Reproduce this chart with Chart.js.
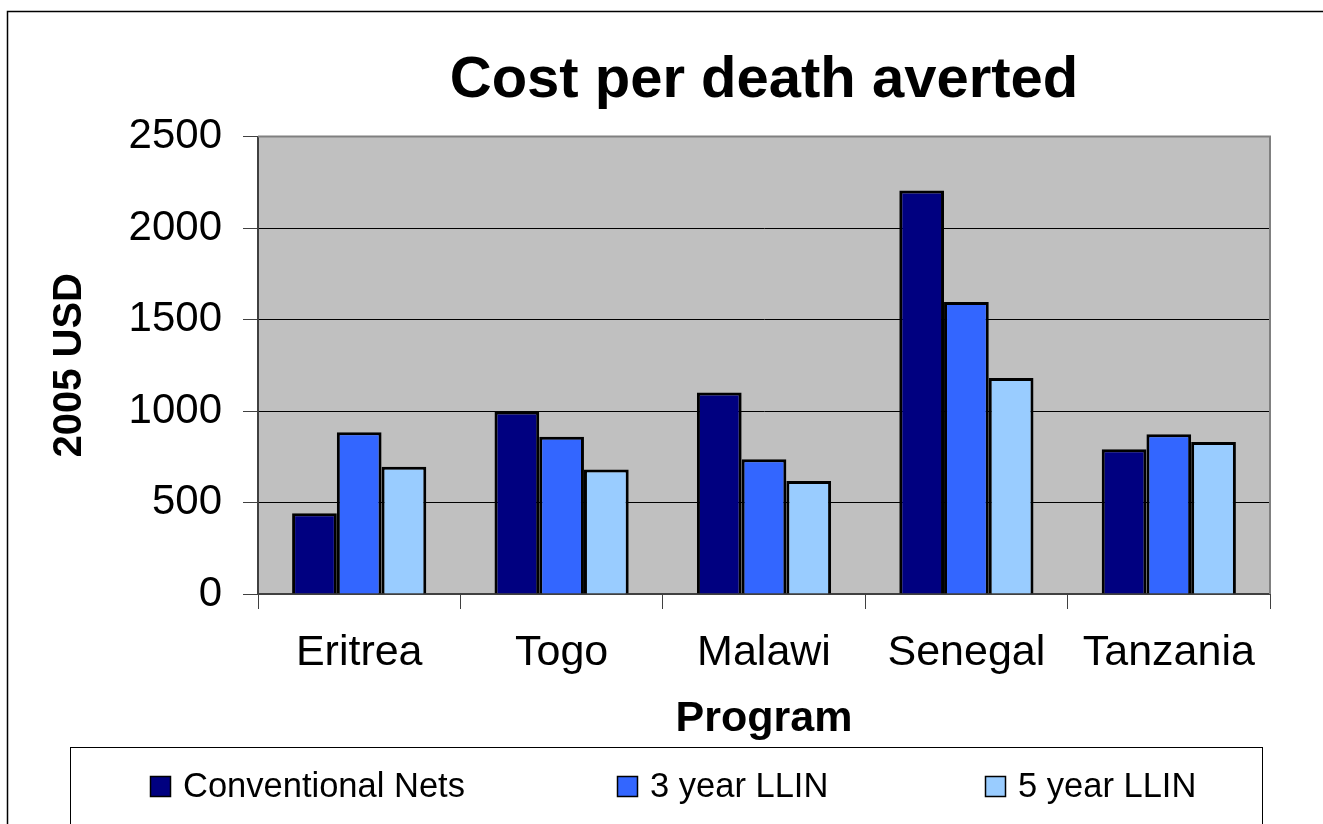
<!DOCTYPE html>
<html>
<head>
<meta charset="utf-8">
<script src="https://cdn.jsdelivr.net/npm/chart.js@4/dist/chart.umd.min.js"></script>
<style>
  html, body { margin: 0; padding: 0; background: #ffffff; }
  #wrap { width: 1323px; height: 824px; }
</style>
</head>
<body>
<div id="wrap"><canvas id="c" width="1323" height="824"></canvas></div>
<script>
const categories = ['Eritrea', 'Togo', 'Malawi', 'Senegal', 'Tanzania'];
const conventionalNets = [442, 997, 1102, 2205, 791];
const llin3Year = [884, 860, 736, 1596, 873];
const llin5Year = [695, 681, 617, 1181, 831];
const seriesLabels = ['Conventional Nets', '3 year LLIN', '5 year LLIN'];
const yTicks = [0, 500, 1000, 1500, 2000, 2500];

const FONT = "'Liberation Sans', Arial, Helvetica, sans-serif";

const frame = {
  id: 'frame',
  beforeDraw(chart) {
    const ctx = chart.ctx;
    ctx.save();
    ctx.fillStyle = '#ffffff';
    ctx.fillRect(0, 0, chart.width, chart.height);
    ctx.strokeStyle = '#000000';
    ctx.lineWidth = 1.5;
    ctx.beginPath();
    ctx.moveTo(7.5, chart.height + 5);
    ctx.lineTo(7.5, 11.5);
    ctx.lineTo(chart.width + 5, 11.5);
    ctx.stroke();
    const a = chart.chartArea;
    ctx.fillStyle = '#C0C0C0';
    ctx.fillRect(a.left, a.top, a.right - a.left, a.bottom - a.top);
    ctx.restore();
  },
  afterDatasetsDraw(chart) {
    const ctx = chart.ctx;
    const a = chart.chartArea;
    ctx.save();
    ctx.strokeStyle = '#808080';
    ctx.lineWidth = 2;
    ctx.beginPath();
    ctx.moveTo(a.left, a.top);
    ctx.lineTo(a.right, a.top);
    ctx.lineTo(a.right, a.bottom);
    ctx.stroke();
    ctx.restore();
  },
  afterDraw(chart) {
    const ctx = chart.ctx;
    ctx.save();
    ctx.strokeStyle = '#000000';
    ctx.lineWidth = 1;
    ctx.strokeRect(70.5, 747.5, 1192, 120);
    const xs = [150, 617, 985];
    const cy = 786;
    ctx.font = '34.5px ' + FONT;
    ctx.textBaseline = 'middle';
    ctx.textAlign = 'left';
    chart.data.datasets.forEach((ds, i) => {
      ctx.fillStyle = ds.backgroundColor;
      ctx.fillRect(xs[i], cy - 10, 21, 21);
      ctx.strokeStyle = '#000000';
      ctx.lineWidth = 1.5;
      ctx.strokeRect(xs[i] + 0.5, cy - 9.5, 20, 20);
      ctx.fillStyle = '#000000';
      ctx.fillText(ds.label, xs[i] + 33, cy + 1);
    });
    ctx.restore();
  }
};

new Chart(document.getElementById('c'), {
  type: 'bar',
  data: {
    labels: categories,
    datasets: [
      { label: seriesLabels[0], data: conventionalNets, backgroundColor: '#000080', borderColor: '#000000', borderWidth: 3 },
      { label: seriesLabels[1], data: llin3Year, backgroundColor: '#3366FF', borderColor: '#000000', borderWidth: 3 },
      { label: seriesLabels[2], data: llin5Year, backgroundColor: '#99CCFF', borderColor: '#000000', borderWidth: 3 }
    ]
  },
  options: {
    responsive: false,
    animation: false,
    categoryPercentage: 0.663,
    barPercentage: 1.0,
    layout: { padding: { left: 0, right: 53, top: 0, bottom: 79 } },
    plugins: {
      legend: { display: false },
      tooltip: { enabled: false },
      title: {
        display: true,
        fullSize: false,
        text: 'Cost per death averted',
        color: '#000000',
        font: { family: FONT, size: 58, weight: 'bold' },
        padding: { top: 46, bottom: 21 }
      }
    },
    scales: {
      x: {
        offset: true,
        grid: { offset: true, drawOnChartArea: false, drawTicks: true, tickLength: 15, color: '#404040', lineWidth: 1 },
        border: { display: true, color: '#404040', width: 2 },
        ticks: { color: '#000000', font: { family: FONT, size: 43 }, padding: 18, maxRotation: 0 },
        title: { display: true, text: 'Program', color: '#000000', font: { family: FONT, size: 43, weight: 'bold' }, padding: { top: 0, bottom: 0 } },
        afterFit(scale) { scale.height = 151; }
      },
      y: {
        min: 0,
        max: 2500,
        afterBuildTicks(scale) { scale.ticks = yTicks.map(v => ({ value: v })); },
        grid: {
          color: (ctx) => (ctx.tick && ctx.tick.value === 2500 ? '#808080' : '#000000'),
          lineWidth: 1,
          drawTicks: true,
          tickLength: 15,
          tickColor: '#404040'
        },
        border: { display: true, color: '#404040', width: 2 },
        ticks: { color: '#000000', font: { family: FONT, size: 42 }, padding: 21, callback: (v) => String(v) },
        title: { display: true, text: '2005 USD', color: '#000000', font: { family: FONT, size: 40, weight: 'bold' }, padding: { top: 46, bottom: 0 } },
        afterFit(scale) { scale.width = 258; }
      }
    }
  },
  plugins: [frame]
});
</script>
</body>
</html>
